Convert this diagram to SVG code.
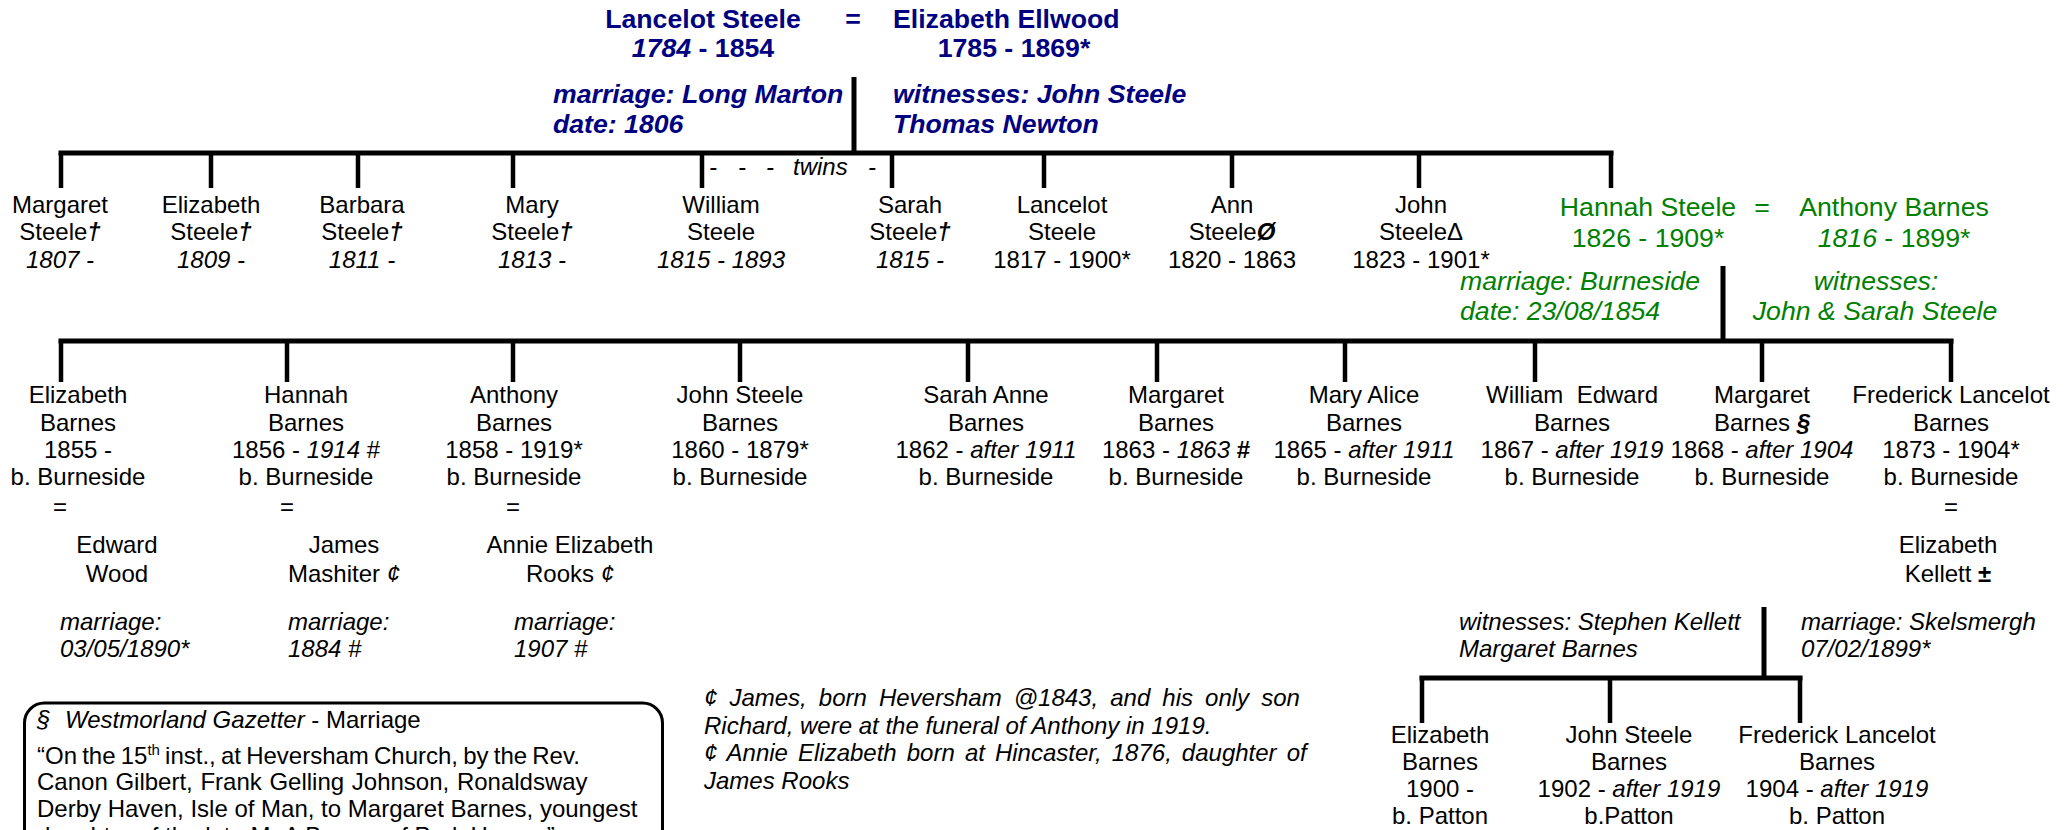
<svg xmlns="http://www.w3.org/2000/svg" width="2072" height="830" viewBox="0 0 2072 830">
<style>
text{font-family:"Liberation Sans",Arial,sans-serif;font-size:24px;fill:#000}
.c{text-anchor:middle}
.i{font-style:italic}
.b{font-weight:bold}
.bi{font-weight:bold;font-style:italic}
.blue{fill:#000080;font-size:26.67px;font-weight:bold}
.green{fill:#008000;font-size:26.67px}
.bar{stroke:#000;stroke-width:5;fill:none}
.drop{stroke:#000;stroke-width:4.5;fill:none}
.box{stroke:#000;stroke-width:3;fill:#fff}
</style>
<rect width="2072" height="830" fill="#fff"/>

<g id="connectors">
<path class="bar" d="M854 77V153M58.5 153H1613.5"/>
<path class="drop" d="M61 153V188M211 153V188M358 153V188M513 153V188M702 153V188M892 153V188M1044 153V188M1232 153V188M1419 153V188M1611 151V188"/>
<path class="bar" d="M1723 266V341M58.5 341H1953.5"/>
<path class="drop" d="M61 341V382M287 341V382M513 341V382M740 341V382M968 341V382M1157 341V382M1345 341V382M1535 341V382M1762 341V382M1951 339V382"/>
<path class="bar" d="M1764 607V678M1419.5 678H1802.5"/>
<path class="drop" d="M1422 676V723M1610 678V723M1800 676V723"/>
</g>

<g id="couple-lancelot-elizabeth">
<text class="blue c" x="703" y="28">Lancelot Steele</text>
<text class="blue c" x="853" y="28">=</text>
<text class="blue" x="893" y="28">Elizabeth Ellwood</text>
<text class="blue c" x="703" y="57"><tspan class="i">1784</tspan> - 1854</text>
<text class="blue c" x="1014" y="57">1785 - 1869*</text>
<text class="blue i" x="553" y="103">marriage: Long Marton</text>
<text class="blue i" x="553" y="133">date: 1806</text>
<text class="blue i" x="893" y="103">witnesses: John Steele</text>
<text class="blue i" x="893" y="133">Thomas Newton</text>
</g>

<g id="twins-label" class="i">
<text class="c i" x="713" y="175">-</text>
<text class="c i" x="742" y="175">-</text>
<text class="c i" x="770" y="175">-</text>
<text class="i" x="793" y="175">twins</text>
<text class="c i" x="872" y="175">-</text>
</g>

<g id="g1-margaret">
<text class="c" x="60" y="213">Margaret</text>
<text class="c" x="60" y="240">Steele<tspan class="bi">†</tspan></text>
<text class="c i" x="60" y="268">1807 -</text>
</g>
<g id="g1-elizabeth">
<text class="c" x="211" y="213">Elizabeth</text>
<text class="c" x="211" y="240">Steele<tspan class="bi">†</tspan></text>
<text class="c i" x="211" y="268">1809 -</text>
</g>
<g id="g1-barbara">
<text class="c" x="362" y="213">Barbara</text>
<text class="c" x="362" y="240">Steele<tspan class="bi">†</tspan></text>
<text class="c i" x="362" y="268">1811 -</text>
</g>
<g id="g1-mary">
<text class="c" x="532" y="213">Mary</text>
<text class="c" x="532" y="240">Steele<tspan class="bi">†</tspan></text>
<text class="c i" x="532" y="268">1813 -</text>
</g>
<g id="g1-william">
<text class="c" x="721" y="213">William</text>
<text class="c" x="721" y="240">Steele</text>
<text class="c i" x="721" y="268">1815 - 1893</text>
</g>
<g id="g1-sarah">
<text class="c" x="910" y="213">Sarah</text>
<text class="c" x="910" y="240">Steele<tspan class="bi">†</tspan></text>
<text class="c i" x="910" y="268">1815 -</text>
</g>
<g id="g1-lancelot">
<text class="c" x="1062" y="213">Lancelot</text>
<text class="c" x="1062" y="240">Steele</text>
<text class="c" x="1062" y="268">1817 - 1900*</text>
</g>
<g id="g1-ann">
<text class="c" x="1232" y="213">Ann</text>
<text class="c" x="1232" y="240">Steele<tspan class="bi">Ø</tspan></text>
<text class="c" x="1232" y="268">1820 - 1863</text>
</g>
<g id="g1-john">
<text class="c" x="1421" y="213">John</text>
<text class="c" x="1421" y="240">SteeleΔ</text>
<text class="c" x="1421" y="268">1823 - 1901*</text>
</g>

<g id="couple-hannah-anthony">
<text class="green c" x="1648" y="216">Hannah Steele</text>
<text class="green c" x="1762" y="216">=</text>
<text class="green c" x="1894" y="216">Anthony Barnes</text>
<text class="green c" x="1648" y="247">1826 - 1909*</text>
<text class="green c" x="1894" y="247"><tspan class="i">1816</tspan> - 1899*</text>
<text class="green i" x="1460" y="290">marriage: Burneside</text>
<text class="green i" x="1460" y="320">date: 23/08/1854</text>
<text class="green i c" x="1876" y="290">witnesses:</text>
<text class="green i c" x="1875" y="320">John &amp; Sarah Steele</text>
</g>

<g id="g2-elizabeth">
<text class="c" x="78" y="403">Elizabeth</text>
<text class="c" x="78" y="430.5">Barnes</text>
<text class="c" x="78" y="458">1855 -</text>
<text class="c" x="78" y="485">b. Burneside</text>
<text class="c" x="60" y="515">=</text>
<text class="c" x="117" y="553">Edward</text>
<text class="c" x="117" y="582">Wood</text>
<text class="i" x="60" y="630">marriage:</text>
<text class="i" x="60" y="657">03/05/1890*</text>
</g>
<g id="g2-hannah">
<text class="c" x="306" y="403">Hannah</text>
<text class="c" x="306" y="430.5">Barnes</text>
<text class="c" x="306" y="458">1856 - <tspan class="i">1914</tspan> #</text>
<text class="c" x="306" y="485">b. Burneside</text>
<text class="c" x="287" y="515">=</text>
<text class="c" x="344" y="553">James</text>
<text class="c" x="344" y="582">Mashiter <tspan class="i">¢</tspan></text>
<text class="i" x="288" y="630">marriage:</text>
<text class="i" x="288" y="657">1884 #</text>
</g>
<g id="g2-anthony">
<text class="c" x="514" y="403">Anthony</text>
<text class="c" x="514" y="430.5">Barnes</text>
<text class="c" x="514" y="458">1858 - 1919*</text>
<text class="c" x="514" y="485">b. Burneside</text>
<text class="c" x="513" y="515">=</text>
<text class="c" x="570" y="553">Annie Elizabeth</text>
<text class="c" x="570" y="582">Rooks <tspan class="i">¢</tspan></text>
<text class="i" x="514" y="630">marriage:</text>
<text class="i" x="514" y="657">1907 #</text>
</g>
<g id="g2-john">
<text class="c" x="740" y="403">John Steele</text>
<text class="c" x="740" y="430.5">Barnes</text>
<text class="c" x="740" y="458">1860 - 1879*</text>
<text class="c" x="740" y="485">b. Burneside</text>
</g>
<g id="g2-sarah">
<text class="c" x="986" y="403">Sarah Anne</text>
<text class="c" x="986" y="430.5">Barnes</text>
<text class="c" x="986" y="458">1862 - <tspan class="i">after 1911</tspan></text>
<text class="c" x="986" y="485">b. Burneside</text>
</g>
<g id="g2-margaret">
<text class="c" x="1176" y="403">Margaret</text>
<text class="c" x="1176" y="430.5">Barnes</text>
<text class="c" x="1176" y="458">1863 - <tspan class="i">1863</tspan> <tspan class="b">#</tspan></text>
<text class="c" x="1176" y="485">b. Burneside</text>
</g>
<g id="g2-mary-alice">
<text class="c" x="1364" y="403">Mary Alice</text>
<text class="c" x="1364" y="430.5">Barnes</text>
<text class="c" x="1364" y="458">1865 - <tspan class="i">after 1911</tspan></text>
<text class="c" x="1364" y="485">b. Burneside</text>
</g>
<g id="g2-william">
<text class="c" x="1572" y="403">William&#160; Edward</text>
<text class="c" x="1572" y="430.5">Barnes</text>
<text class="c" x="1572" y="458">1867 - <tspan class="i">after 1919</tspan></text>
<text class="c" x="1572" y="485">b. Burneside</text>
</g>
<g id="g2-margaret-2">
<text class="c" x="1762" y="403">Margaret</text>
<text class="c" x="1762" y="430.5">Barnes <tspan class="bi">§</tspan></text>
<text class="c" x="1762" y="458">1868 - <tspan class="i">after 1904</tspan></text>
<text class="c" x="1762" y="485">b. Burneside</text>
</g>
<g id="g2-frederick">
<text class="c" x="1951" y="403">Frederick Lancelot</text>
<text class="c" x="1951" y="430.5">Barnes</text>
<text class="c" x="1951" y="458">1873 - 1904*</text>
<text class="c" x="1951" y="485">b. Burneside</text>
<text class="c" x="1951" y="515">=</text>
<text class="c" x="1948" y="553">Elizabeth</text>
<text class="c" x="1948" y="582">Kellett <tspan class="b">±</tspan></text>
<text class="i" x="1459" y="630">witnesses: Stephen Kellett</text>
<text class="i" x="1459" y="657">Margaret Barnes</text>
<text class="i" x="1801" y="630">marriage: Skelsmergh</text>
<text class="i" x="1801" y="657">07/02/1899*</text>
</g>

<g id="g3-elizabeth">
<text class="c" x="1440" y="743">Elizabeth</text>
<text class="c" x="1440" y="770">Barnes</text>
<text class="c" x="1440" y="797">1900 -</text>
<text class="c" x="1440" y="824">b. Patton</text>
</g>
<g id="g3-john">
<text class="c" x="1629" y="743">John Steele</text>
<text class="c" x="1629" y="770">Barnes</text>
<text class="c" x="1629" y="797">1902 - <tspan class="i">after 1919</tspan></text>
<text class="c" x="1629" y="824">b.Patton</text>
</g>
<g id="g3-frederick">
<text class="c" x="1837" y="743">Frederick Lancelot</text>
<text class="c" x="1837" y="770">Barnes</text>
<text class="c" x="1837" y="797">1904 - <tspan class="i">after 1919</tspan></text>
<text class="c" x="1837" y="824">b. Patton</text>
</g>

<g id="note-gazette">
<rect class="box" x="24.5" y="703" width="638" height="180" rx="20"/>
<text x="37" y="728"><tspan class="i">§</tspan><tspan class="i" x="65">Westmorland Gazetter</tspan> - Marriage</text>
<text x="37" y="764" word-spacing="-1.5">“On the 15<tspan font-size="15" dy="-9">th</tspan><tspan dy="9"> inst., at Heversham Church, by the Rev.</tspan></text>
<text x="37" y="790" word-spacing="1">Canon Gilbert, Frank Gelling Johnson, Ronaldsway</text>
<text x="37" y="817">Derby Haven, Isle of Man, to Margaret Barnes, youngest</text>
<text x="37" y="844">daughter of the late Mr A Barnes of Park House.”</text>
</g>

<g id="note-cent">
<text class="i" x="704" y="706" word-spacing="5.4">¢ James, born Heversham @1843, and his only son</text>
<text class="i" x="704" y="734">Richard, were at the funeral of Anthony in 1919.</text>
<text class="i" x="704" y="761" word-spacing="3.4">¢ Annie Elizabeth born at Hincaster, 1876, daughter of</text>
<text class="i" x="704" y="789">James Rooks</text>
</g>
</svg>
